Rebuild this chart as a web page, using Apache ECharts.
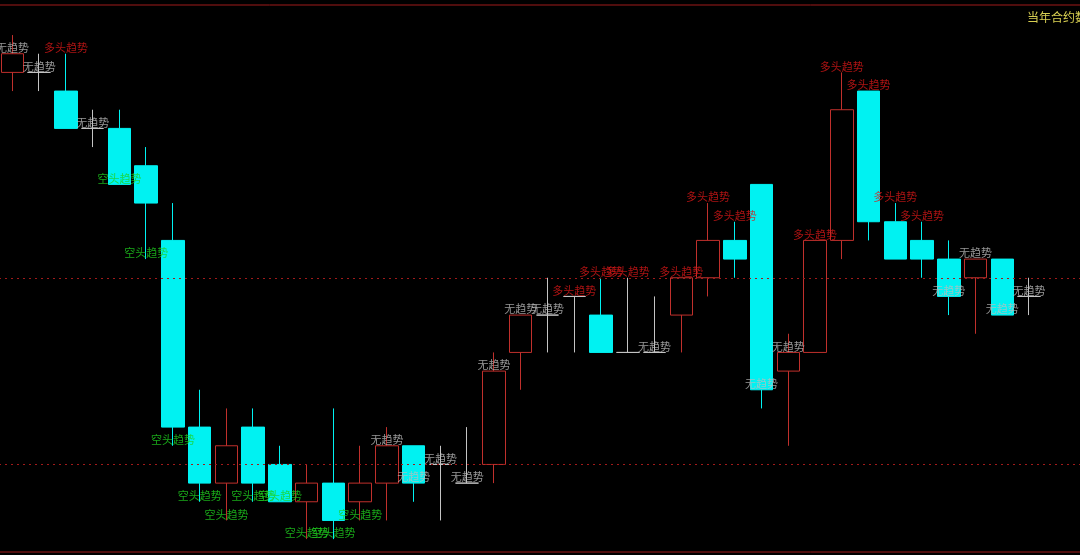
<!DOCTYPE html>
<html>
<head>
<meta charset="utf-8">
<title>趋势K线</title>
<script src="https://cdn.jsdelivr.net/npm/echarts@6/dist/echarts.min.js"></script>
<style>
  html, body { margin: 0; padding: 0; background: #000; }
  #chart { width: 1080px; height: 555px; }
</style>
</head>
<body>
<div id="chart"></div>
<script>
// 横轴位置（最后两格留空）
const categoryArr = ['1', '2', '3', '4', '5', '6', '7', '8', '9', '10', '11', '12', '13', '14',
  '15', '16', '17', '18', '19', '20', '21', '22', '23', '24', '25', '26', '27', '28', '29',
  '30', '31', '32', '33', '34', '35', '36', '37', '38', '39', '40', '41'];

// K线数据
const openArr = [3870, 3870, 3860, 3840, 3840, 3820, 3780, 3680, 3650, 3680, 3660, 3640, 3650,
  3640, 3650, 3670, 3660, 3650, 3660, 3720, 3740, 3750, 3740, 3720, 3720, 3740, 3760, 3780,
  3810, 3710, 3720, 3780, 3860, 3790, 3780, 3770, 3760, 3770, 3750];
const closeArr = [3880, 3870, 3840, 3840, 3810, 3800, 3680, 3650, 3670, 3650, 3640, 3650, 3630,
  3650, 3670, 3650, 3660, 3650, 3710, 3740, 3740, 3750, 3720, 3720, 3720, 3760, 3780, 3770,
  3700, 3720, 3780, 3850, 3790, 3770, 3770, 3750, 3770, 3740, 3750];
const lowArr = [3860, 3860, 3840, 3830, 3810, 3770, 3670, 3640, 3630, 3640, 3640, 3620, 3620,
  3630, 3630, 3640, 3630, 3650, 3650, 3700, 3720, 3720, 3720, 3720, 3720, 3720, 3750, 3760,
  3690, 3670, 3720, 3770, 3780, 3770, 3760, 3740, 3730, 3740, 3740];
const highArr = [3890, 3880, 3880, 3850, 3850, 3830, 3800, 3700, 3690, 3690, 3670, 3660, 3690,
  3670, 3680, 3670, 3670, 3680, 3720, 3740, 3760, 3750, 3760, 3760, 3750, 3760, 3800, 3790,
  3810, 3730, 3780, 3870, 3860, 3800, 3790, 3780, 3770, 3770, 3760];

// 每根K线的趋势标注 及 标注所在价位
const trendArr = ['无趋势', '无趋势', '多头趋势', '无趋势', '空头趋势', '空头趋势', '空头趋势',
  '空头趋势', '空头趋势', '空头趋势', '空头趋势', '空头趋势', '空头趋势', '空头趋势', '无趋势',
  '无趋势', '无趋势', '无趋势', '无趋势', '无趋势', '无趋势', '多头趋势', '多头趋势', '多头趋势',
  '无趋势', '多头趋势', '多头趋势', '多头趋势', '无趋势', '无趋势', '多头趋势', '多头趋势',
  '多头趋势', '多头趋势', '多头趋势', '无趋势', '无趋势', '无趋势', '无趋势'];
const trendPriceArr = [3880, 3870, 3880, 3840, 3810, 3770, 3670, 3640, 3630, 3640, 3640, 3620,
  3620, 3630, 3670, 3650, 3660, 3650, 3710, 3740, 3740, 3750, 3760, 3760, 3720, 3760, 3800,
  3790, 3700, 3720, 3780, 3870, 3860, 3800, 3790, 3750, 3770, 3740, 3750];

// 参考价位（虚线）
const refPriceArr = [3760, 3660];

// 价格轴范围
const priceMin = 3613.1;
const priceMax = 3906.1;

const upColor = '#c0302c';
const downColor = '#00f2f2';
const dojiColor = '#c4c4c4';
const frameColor = '#a01a1a';
const trendColor = {
  '无趋势': '#bdbdbd',
  '多头趋势': '#d81818',
  '空头趋势': '#1fd11f'
};

const chart = echarts.init(document.getElementById('chart'));

// 组装K线，十字星单独着色
const candleData = openArr.map((o, i) => {
  const item = { value: [o, closeArr[i], lowArr[i], highArr[i]] };
  if (o === closeArr[i]) {
    item.itemStyle = {
      color: dojiColor,
      color0: dojiColor,
      borderColor: dojiColor,
      borderColor0: dojiColor
    };
  }
  return item;
});

const labelData = trendArr.map((t, i) => ({
  value: [i, trendPriceArr[i]],
  label: { color: trendColor[t] }
}));

const option = {
  backgroundColor: '#000',
  animation: false,
  title: {
    text: '当年合约数',
    left: 1022,
    top: 6,
    textStyle: {
      color: '#d8cf52',
      fontSize: 12,
      fontWeight: 'normal',
      fontFamily: 'Noto Sans CJK SC'
    }
  },
  grid: {
    // 左右边框移出画布，只留上下边框
    left: -1,
    width: 1097,
    top: 5,
    bottom: 3,
    outerBoundsMode: 'none',
    show: true,
    backgroundColor: 'transparent',
    borderColor: frameColor,
    borderWidth: 1
  },
  xAxis: {
    type: 'category',
    data: categoryArr,
    axisLine: { show: false },
    axisTick: { show: false },
    axisLabel: { show: false },
    splitLine: { show: false }
  },
  yAxis: {
    type: 'value',
    min: priceMin,
    max: priceMax,
    axisLine: { show: false },
    axisTick: { show: false },
    axisLabel: { show: false },
    splitLine: { show: false }
  },
  series: [
    {
      type: 'candlestick',
      barWidth: 23,
      data: candleData,
      itemStyle: {
        color: '#000',
        color0: downColor,
        borderColor: upColor,
        borderColor0: downColor,
        borderColorDoji: dojiColor,
        borderWidth: 1
      },
      markLine: {
        silent: true,
        symbol: 'none',
        label: { show: false },
        lineStyle: { color: frameColor, type: [2, 4], width: 1 },
        data: refPriceArr.map(p => ({ yAxis: p }))
      }
    },
    {
      // 趋势文字
      type: 'scatter',
      symbolSize: 1,
      itemStyle: { color: 'transparent' },
      z: 5,
      data: labelData,
      label: {
        show: true,
        position: 'top',
        distance: 0,
        fontSize: 11,
        fontFamily: 'Noto Sans CJK SC',
        formatter: p => trendArr[p.dataIndex]
      }
    }
  ]
};

chart.setOption(option);
window.addEventListener('resize', () => chart.resize());
</script>
</body>
</html>
